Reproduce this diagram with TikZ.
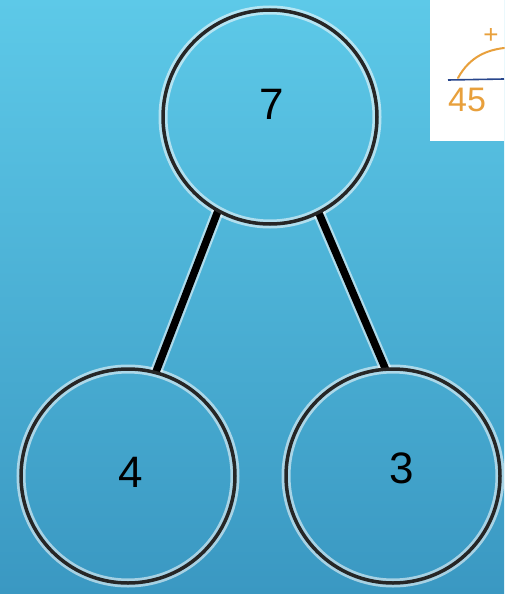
\documentclass[tikz,border=0pt]{standalone}
\usepackage{fontspec}
\setmainfont{Liberation Sans}
\definecolor{bgtop}{RGB}{93,201,232}
\definecolor{bgbot}{RGB}{58,152,194}
\definecolor{inkorange}{RGB}{232,160,60}
\definecolor{inkblue}{RGB}{40,70,140}
\begin{document}
\begin{tikzpicture}[x=1pt,y=-1pt,
  halo/.style={draw=white,line width=9pt,opacity=0.55},
  ring/.style={draw=black!85,line width=3.5pt},
  numcircle/.style={circle,minimum size=214pt,inner sep=0pt,font=\fontsize{44}{44}\selectfont},
  link/.style={draw=black,line width=7.5pt},
  linkhalo/.style={draw=white,line width=12pt,opacity=0.55}]
\useasboundingbox (0,0) rectangle (504,594);
\shade[top color=bgtop,bottom color=bgbot] (0,0) rectangle (504,594);
% inset picture
\fill[white] (430,0) rectangle (504,141);
\draw[inkorange,line width=2pt,line cap=round] (458,78) .. controls (470,56) and (488,50) .. (504,48);
\draw[inkblue,line width=1.6pt] (448,80) -- (504,79);
\node[inkorange,font=\fontsize{26}{26}\selectfont] (plus) at (491,36) {+};
\node[inkorange,font=\fontsize{34}{34}\selectfont] (num45) at (467,100) {45};
% coordinates
\coordinate (ct) at (270,117);
\coordinate (cl) at (128,476);
\coordinate (cr) at (393,476);
% halos
\draw[halo] (ct) circle (107);
\draw[halo] (cl) circle (107);
\draw[halo] (cr) circle (107);
\node[numcircle] (top) at (ct) {};
\node[numcircle] (left) at (cl) {};
\node[numcircle] (right) at (cr) {};
\draw[linkhalo] (top.-119) -- (left.75);
\draw[linkhalo] (top.-63) -- (right.94);
\draw[link] (top.-119) -- (left.75);
\draw[link] (top.-63) -- (right.94);
\draw[ring] (ct) circle (107);
\draw[ring] (cl) circle (107);
\draw[ring] (cr) circle (107);
\node[font=\fontsize{44}{44}\selectfont] (t7) at (272,104) {7};
\node[font=\fontsize{44}{44}\selectfont] (t4) at (131,472) {4};
\node[font=\fontsize{44}{44}\selectfont] (t3) at (402,468) {3};
\end{tikzpicture}
\end{document}
